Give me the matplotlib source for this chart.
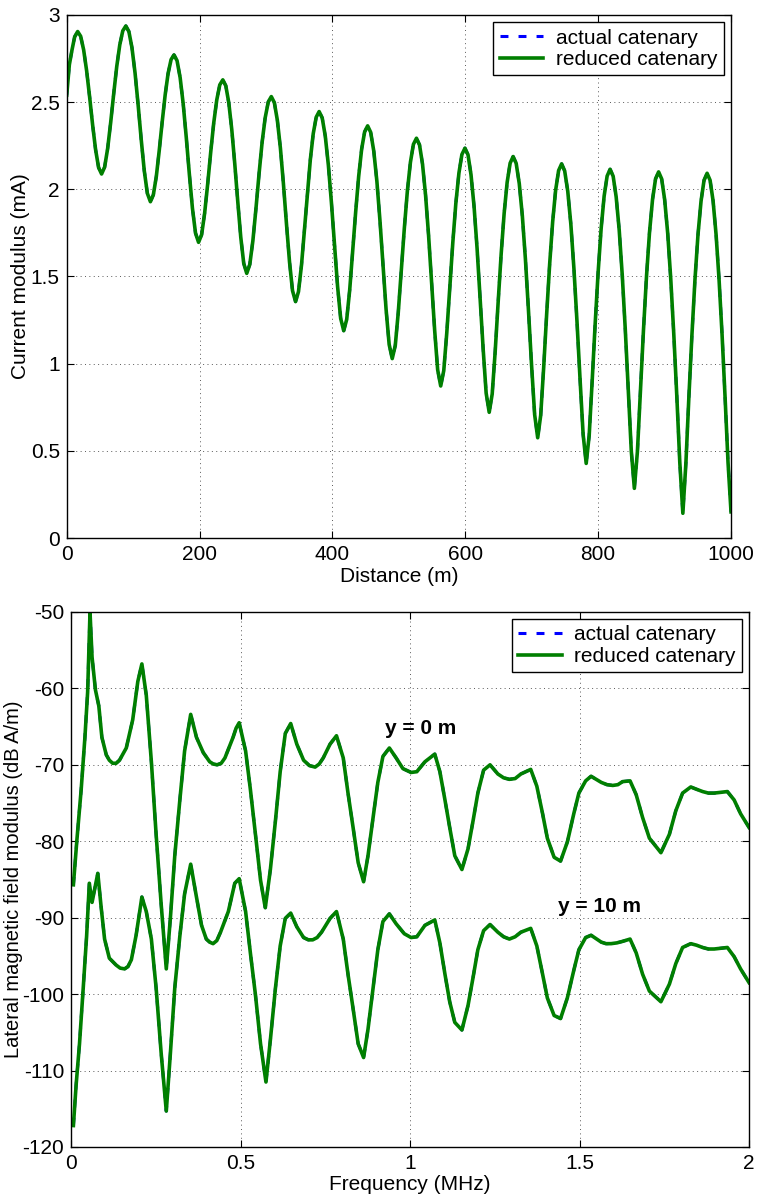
import matplotlib
matplotlib.use("Agg")
import matplotlib.pyplot as plt

plt.rcParams["font.family"] = ["Liberation Sans", "DejaVu Sans"]
plt.rcParams["axes.unicode_minus"] = False

# ---- top panel: current modulus along the line (m, mA) ----
dist = [
    0, 4, 8, 12, 16.5,
    21, 25.5, 30, 34.5, 39, 43.5, 48, 52.5,
    57.06, 61.6, 66.19, 70.75, 75.31, 79.9, 84.4, 89,
    93.6, 98.25, 102.9, 107.5, 112.1, 116.75, 121.4, 126,
    130.4, 134.9, 139.3, 143.75, 148.2, 152.6, 157.1, 161.5,
    166.1, 170.75, 175.4, 180, 184.6, 189.25, 193.9, 198.5,
    203.1, 207.6, 212.2, 216.75, 221.3, 225.9, 230.4, 235,
    239.5, 244, 248.5, 253, 257.5, 262, 266.5, 271,
    275.6, 280.25, 284.9, 289.5, 294.1, 298.75, 303.4, 308,
    312.6, 317.1, 321.7, 326.25, 330.8, 335.4, 339.9, 344.5,
    348.9, 353.4, 357.8, 362.25, 366.7, 371.1, 375.6, 380,
    384.6, 389.25, 393.9, 398.5, 403.1, 407.75, 412.4, 417,
    421.5, 426, 430.5, 435, 439.5, 444, 448.5, 453,
    457.6, 462.25, 466.9, 471.5, 476.1, 480.75, 485.4, 490,
    494.6, 499.1, 503.7, 508.25, 512.8, 517.4, 521.9, 526.5,
    531.1, 535.6, 540.2, 544.75, 549.3, 553.9, 558.4, 563,
    567.6, 572.1, 576.7, 581.25, 585.8, 590.4, 594.9, 599.5,
    604.1, 608.6, 613.2, 617.75, 622.3, 626.9, 631.4, 636,
    640.5, 645, 649.5, 654, 658.5, 663, 667.5, 672,
    676.6, 681.25, 685.9, 690.5, 695.1, 699.75, 704.4, 709,
    713.5, 718, 722.5, 727, 731.5, 736, 740.5, 745,
    749.6, 754.25, 758.9, 763.5, 768.1, 772.75, 777.4, 782,
    786.5, 791, 795.5, 800, 804.5, 809, 813.5, 818,
    822.6, 827.1, 831.7, 836.25, 840.8, 845.4, 849.9, 854.5,
    859.1, 863.6, 868.2, 872.75, 877.3, 881.9, 886.4, 891,
    895.6, 900.1, 904.7, 909.25, 913.8, 918.4, 922.9, 927.5,
    932.1, 936.6, 941.2, 945.75, 950.3, 954.9, 959.4, 964,
    968.5, 973, 977.5, 982, 986.5, 991, 995.5, 1000,
]
current = [
    2.54, 2.715, 2.80, 2.875, 2.905,
    2.878, 2.800, 2.680, 2.530, 2.370, 2.227, 2.125, 2.088,
    2.127, 2.233, 2.383, 2.548, 2.704, 2.829, 2.909, 2.937,
    2.905, 2.812, 2.667, 2.485, 2.288, 2.107, 1.977, 1.929,
    1.968, 2.074, 2.223, 2.387, 2.541, 2.664, 2.744, 2.771,
    2.738, 2.641, 2.489, 2.297, 2.088, 1.892, 1.749, 1.696,
    1.740, 1.862, 2.030, 2.212, 2.380, 2.513, 2.599, 2.628,
    2.594, 2.496, 2.342, 2.146, 1.930, 1.726, 1.575, 1.518,
    1.569, 1.705, 1.890, 2.087, 2.268, 2.410, 2.501, 2.532,
    2.497, 2.396, 2.236, 2.031, 1.803, 1.584, 1.419, 1.356,
    1.413, 1.564, 1.766, 1.978, 2.169, 2.319, 2.414, 2.446,
    2.410, 2.305, 2.138, 1.923, 1.681, 1.443, 1.260, 1.189,
    1.254, 1.423, 1.644, 1.871, 2.074, 2.231, 2.330, 2.364,
    2.327, 2.219, 2.047, 1.823, 1.567, 1.312, 1.110, 1.029,
    1.104, 1.294, 1.535, 1.777, 1.990, 2.155, 2.258, 2.293,
    2.255, 2.145, 1.967, 1.735, 1.466, 1.191, 0.965, 0.872,
    0.960, 1.175, 1.438, 1.697, 1.921, 2.093, 2.200, 2.236,
    2.198, 2.084, 1.902, 1.661, 1.379, 1.084, 0.831, 0.721,
    0.826, 1.070, 1.355, 1.629, 1.863, 2.040, 2.150, 2.188,
    2.149, 2.033, 1.847, 1.600, 1.306, 0.992, 0.708, 0.575,
    0.703, 0.978, 1.285, 1.571, 1.813, 1.995, 2.108, 2.146,
    2.106, 1.989, 1.800, 1.547, 1.244, 0.911, 0.593, 0.428,
    0.588, 0.901, 1.228, 1.526, 1.775, 1.961, 2.076, 2.115,
    2.075, 1.957, 1.766, 1.509, 1.199, 0.851, 0.498, 0.285,
    0.496, 0.846, 1.191, 1.499, 1.753, 1.943, 2.060, 2.100,
    2.060, 1.941, 1.748, 1.488, 1.173, 0.814, 0.433, 0.142,
    0.431, 0.811, 1.168, 1.483, 1.741, 1.933, 2.052, 2.092,
    2.052, 1.934, 1.741, 1.483, 1.169, 0.812, 0.434, 0.15,
]

# ---- bottom panel: lateral magnetic field (MHz, dB A/m) ----
freq_y0 = [
    0.007, 0.017, 0.030, 0.041, 0.049, 0.056, 0.062, 0.072, 0.082, 0.091,
    0.104, 0.113, 0.123, 0.133, 0.143, 0.163, 0.182, 0.197, 0.209, 0.222,
    0.237, 0.251, 0.266, 0.281, 0.293, 0.306, 0.321, 0.335, 0.353, 0.370,
    0.390, 0.409, 0.420, 0.431, 0.443, 0.454, 0.478, 0.487, 0.496, 0.515,
    0.529, 0.544, 0.559, 0.573, 0.588, 0.603, 0.617, 0.632, 0.648, 0.666,
    0.686, 0.703, 0.720, 0.732, 0.744, 0.764, 0.783, 0.803, 0.817, 0.832,
    0.847, 0.863, 0.876, 0.891, 0.905, 0.920, 0.939, 0.959, 0.979, 1.003,
    1.020, 1.044, 1.073, 1.088, 1.103, 1.117, 1.132, 1.153, 1.171, 1.186,
    1.200, 1.217, 1.236, 1.259, 1.276, 1.293, 1.310, 1.327, 1.356, 1.374,
    1.391, 1.405, 1.425, 1.444, 1.464, 1.483, 1.498, 1.518, 1.534, 1.564,
    1.581, 1.598, 1.613, 1.627, 1.649, 1.667, 1.686, 1.706, 1.740, 1.765,
    1.784, 1.804, 1.828, 1.845, 1.863, 1.880, 1.897, 1.917, 1.936, 1.956,
    1.975, 2.0,
]
field_y0 = [
    -85.7, -80.0, -73.2, -66.4, -60.5, -50.0, -55.9, -60.2, -62.3, -66.4,
    -68.7, -69.4, -69.8, -69.8, -69.4, -67.8, -64.1, -59.1, -56.8, -60.9,
    -69.6, -79.1, -88.3, -96.7, -90.1, -81.9, -74.6, -68.2, -63.4, -66.4,
    -68.4, -69.6, -69.9, -70.0, -69.8, -69.1, -66.4, -65.2, -64.5, -68.2,
    -73.2, -79.1, -85.1, -88.7, -83.7, -77.3, -70.9, -65.9, -64.6, -67.3,
    -69.4, -70.1, -70.3, -69.9, -69.1, -67.3, -66.2, -69.1, -73.7, -78.2,
    -82.8, -85.3, -81.9, -76.9, -72.3, -68.9, -67.8, -69.1, -70.5, -71.0,
    -70.9, -69.6, -68.6, -70.9, -74.6, -78.2, -81.9, -83.7, -81.0, -77.3,
    -73.7, -70.7, -70.0, -71.2, -71.7, -71.9, -71.8, -71.2, -70.6, -72.8,
    -76.4, -79.6, -82.1, -82.6, -80.1, -76.4, -73.7, -72.1, -71.5, -72.3,
    -72.6, -72.7, -72.6, -72.2, -72.1, -73.9, -76.9, -79.6, -81.5, -79.1,
    -76.0, -73.7, -72.9, -73.2, -73.5, -73.7, -73.7, -73.6, -73.5, -74.6,
    -76.4, -78.2,
]
freq_y10 = [
    0.007, 0.015, 0.025, 0.036, 0.046, 0.054, 0.062, 0.079, 0.089, 0.099,
    0.113, 0.133, 0.145, 0.158, 0.168, 0.178, 0.192, 0.209, 0.222, 0.237,
    0.251, 0.266, 0.281, 0.293, 0.306, 0.321, 0.335, 0.353, 0.370, 0.385,
    0.399, 0.409, 0.419, 0.430, 0.441, 0.464, 0.483, 0.496, 0.515, 0.529,
    0.544, 0.559, 0.575, 0.588, 0.603, 0.617, 0.632, 0.648, 0.666, 0.686,
    0.700, 0.713, 0.726, 0.739, 0.764, 0.783, 0.803, 0.817, 0.832, 0.847,
    0.863, 0.876, 0.891, 0.905, 0.920, 0.939, 0.959, 0.983, 1.003, 1.020,
    1.044, 1.073, 1.088, 1.103, 1.117, 1.132, 1.153, 1.171, 1.186, 1.200,
    1.217, 1.236, 1.259, 1.276, 1.293, 1.310, 1.327, 1.356, 1.374, 1.391,
    1.405, 1.425, 1.444, 1.464, 1.483, 1.498, 1.518, 1.534, 1.564, 1.578,
    1.593, 1.610, 1.627, 1.649, 1.667, 1.686, 1.706, 1.740, 1.765, 1.784,
    1.804, 1.828, 1.845, 1.863, 1.880, 1.897, 1.917, 1.936, 1.956, 1.975,
    2.0,
]
field_y10 = [
    -117.2, -111.9, -106.5, -99.2, -92.4, -85.5, -88.0, -84.2, -88.7, -92.8,
    -95.3, -96.2, -96.6, -96.7, -96.4, -95.5, -92.3, -87.3, -89.2, -92.8,
    -99.2, -107.8, -115.3, -107.8, -99.2, -92.4, -86.9, -83.0, -87.3, -91.0,
    -92.8, -93.2, -93.4, -93.0, -91.9, -89.2, -85.5, -84.9, -89.2, -94.6,
    -100.1, -106.5, -111.5, -106.0, -99.2, -93.7, -90.1, -89.4, -91.2, -92.6,
    -92.9, -92.9, -92.6, -91.9, -90.1, -89.2, -92.8, -97.4, -101.9, -106.5,
    -108.3, -104.6, -99.2, -94.2, -90.5, -89.5, -90.8, -92.1, -92.6, -92.5,
    -91.0, -90.3, -93.3, -97.4, -101.0, -103.7, -104.7, -101.5, -97.8, -94.2,
    -91.7, -90.9, -91.9, -92.5, -92.8, -92.5, -91.9, -91.4, -93.7, -97.4,
    -100.5, -102.8, -103.2, -100.5, -96.9, -94.2, -92.6, -92.3, -93.2, -93.4,
    -93.4, -93.3, -93.1, -92.8, -94.6, -97.4, -99.6, -101.0, -98.7, -96.0,
    -93.9, -93.4, -93.6, -93.9, -94.1, -94.1, -94.0, -93.9, -95.1, -96.7,
    -98.5,
]

labels = ["actual catenary", "reduced catenary"]
fs = 15
dash = (2.6, 3.3)


def style_axes(ax):
    ax.grid(True, linestyle=(0, (1, 3.5)), color="0.35", linewidth=0.7)
    ax.tick_params(direction="in", top=True, right=True, length=5,
                   width=0.8, labelsize=fs, pad=5)
    for sp in ax.spines.values():
        sp.set_linewidth(1.0)
    leg = ax.legend(loc="upper right", fontsize=fs, fancybox=False,
                    edgecolor="black", framealpha=1, borderaxespad=0.35,
                    handlelength=2.1, handletextpad=0.6, labelspacing=0.12,
                    borderpad=0.3)
    leg.get_frame().set_linewidth(1.0)


fig = plt.figure(figsize=(7.58, 11.98), dpi=100)

# 上图
ax1 = fig.add_axes([0.088, 0.5509, 0.8764, 0.4366])
ax1.plot(dist, current, "b--", lw=2.2, dashes=dash, label=labels[0])
ax1.plot(dist, current, color="#007f00", lw=2.6, label=labels[1])
ax1.set_xlim(0, 1000)
ax1.set_ylim(0, 3)
ax1.set_xticks([0, 200, 400, 600, 800, 1000])
ax1.set_yticks([0, 0.5, 1, 1.5, 2, 2.5, 3])
ax1.set_yticklabels(["0", "0.5", "1", "1.5", "2", "2.5", "3"])
ax1.set_xlabel("Distance (m)", fontsize=fs, labelpad=2.3)
ax1.set_ylabel("Current modulus (mA)", fontsize=fs)
ax1.yaxis.set_label_coords(-0.055, 0.5)
style_axes(ax1)

# 下图
ax2 = fig.add_axes([0.0937, 0.0426, 0.8945, 0.4466])
ax2.plot(freq_y0, field_y0, "b--", lw=2.2, dashes=dash, label=labels[0])
ax2.plot(freq_y0, field_y0, color="#007f00", lw=2.6, label=labels[1])
ax2.plot(freq_y10, field_y10, "b--", lw=2.2, dashes=dash)
ax2.plot(freq_y10, field_y10, color="#007f00", lw=2.6)
ax2.set_xlim(0, 2)
ax2.set_ylim(-120, -50)
ax2.set_xticks([0, 0.5, 1, 1.5, 2])
ax2.set_xticklabels(["0", "0.5", "1", "1.5", "2"])
ax2.set_yticks(range(-120, -49, 10))
ax2.set_xlabel("Frequency (MHz)", fontsize=fs, labelpad=1.2)
ax2.set_ylabel("Lateral magnetic field modulus (dB A/m)", fontsize=14.5)
ax2.yaxis.set_label_coords(-0.071, 0.5)
ax2.text(0.926, -65.2, "y = 0 m", fontsize=15, fontweight="bold",
         ha="left", va="center")
ax2.text(1.437, -88.5, "y = 10 m", fontsize=15, fontweight="bold",
         ha="left", va="center")
style_axes(ax2)

fig.savefig("out.png", dpi=100)
